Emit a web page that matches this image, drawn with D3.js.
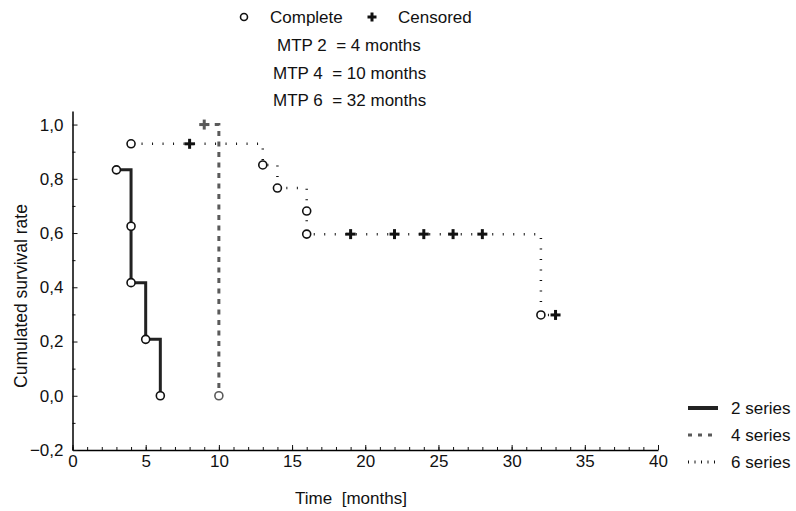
<!DOCTYPE html>
<html lang="en">
    <head>
        <meta charset="utf-8">
        <title>Survival curves</title>
        <script src="https://d3js.org/d3.v7.min.js"></script>
        <style type="text/css">
            body{
                margin: 0;
                background: white;
            }
            text{
                font-family: "Liberation Sans", Arial, sans-serif;
                fill: #111;
                white-space: pre;
            }
            .tick text{
                font-size: 17px;
            }
            .legend{
                font-size: 17px;
            }
        </style>
    </head>
    <body>
        <script type="text/javascript">

            //data
            const seriesNames = ["2 series", "4 series", "6 series"];

            //step curves (time, survival)
            const stepTime2 = [3, 4, 5, 6];
            const stepSurv2 = [0.833, 0.417, 0.208, 0];
            const stepTime4 = [9, 10];
            const stepSurv4 = [1.0, 0];
            const stepTime6 = [4, 13, 14, 16, 32, 33];
            const stepSurv6 = [0.929, 0.851, 0.766, 0.596, 0.298, 0.298];

            //complete events
            const compTime2 = [3, 4, 4, 5, 6];
            const compSurv2 = [0.833, 0.625, 0.417, 0.208, 0];
            const compTime4 = [10];
            const compSurv4 = [0];
            const compTime6 = [4, 13, 14, 16, 16, 32];
            const compSurv6 = [0.929, 0.851, 0.766, 0.681, 0.596, 0.298];

            //censored events
            const censTime4 = [9];
            const censSurv4 = [1.0];
            const censTime6 = [8, 19, 22, 24, 26, 28, 33];
            const censSurv6 = [0.929, 0.596, 0.596, 0.596, 0.596, 0.596, 0.298];

            const xTicks = [0, 5, 10, 15, 20, 25, 30, 35, 40];
            const yTicks = [-0.2, 0, 0.2, 0.4, 0.6, 0.8, 1.0];
            const mtpLines = ["MTP 2  = 4 months", "MTP 4  = 10 months", "MTP 6  = 32 months"];

            const zip = (a, b) => a.map((v, i) => [v, b[i]]);

            const series = [
                {name: seriesNames[0], steps: zip(stepTime2, stepSurv2), comp: zip(compTime2, compSurv2), cens: [],
                 color: "#222", width: 3, dash: null, legDash: null},
                {name: seriesNames[1], steps: zip(stepTime4, stepSurv4), comp: zip(compTime4, compSurv4), cens: zip(censTime4, censSurv4),
                 color: "#5a5a5a", width: 3, dash: "5,5.5", legDash: "4,6"},
                {name: seriesNames[2], steps: zip(stepTime6, stepSurv6), comp: zip(compTime6, compSurv6), cens: zip(censTime6, censSurv6),
                 color: "#111", width: 2.5, dash: "1,9.5", legDash: "1,5.5"}
            ];

            //declare consts
            const w = 796;
            const h = 511;

            const x = d3.scaleLinear().domain([0, 40]).range([72.5, 658]);
            const y = d3.scaleLinear().domain([-0.2, 1.05]).range([450, 111]);

            const svg = d3.select("body")
                    .append("svg")
                    .attr("width", w)
                    .attr("height", h);

            const comma = d => d3.format(".1f")(d).replace(".", ",");

            //minor ticks first
            svg.append("g")
               .attr("transform", "translate(0,450)")
               .call(d3.axisTop(x).ticks(40).tickSize(3).tickFormat(""))
               .call(g => g.select(".domain").remove());
            svg.append("g")
               .attr("transform", "translate(72.5,0)")
               .call(d3.axisRight(y).tickValues(d3.range(-0.1, 1.05, 0.2)).tickSize(3).tickFormat(""))
               .call(g => g.select(".domain").remove());

            //x axis
            const xAxis = svg.append("g")
               .attr("transform", "translate(0,450)")
               .call(d3.axisBottom(x).tickValues(xTicks).tickSizeInner(-5).tickSizeOuter(0).tickPadding(5));
            xAxis.select(".domain").attr("stroke-width", 1.5);

            //y axis
            const yAxis = svg.append("g")
               .attr("transform", "translate(72.5,0)")
               .call(d3.axisLeft(y).tickValues(yTicks).tickFormat(comma).tickSizeInner(-5).tickSizeOuter(0).tickPadding(9));
            yAxis.select(".domain").attr("stroke-width", 1.5);

            svg.selectAll(".tick line").attr("stroke", "#111");
            svg.selectAll(".tick text").attr("fill", "#111");

            //axis titles
            svg.append("text")
               .attr("x", 351)
               .attr("y", 504)
               .attr("text-anchor", "middle")
               .style("font-size", "17px")
               .text("Time  [months]");

            svg.append("text")
               .attr("transform", "translate(27,296) rotate(-90)")
               .attr("text-anchor", "middle")
               .style("font-size", "17.5px")
               .text("Cumulated survival rate");

            //step lines
            const line = d3.line()
                           .x(d => x(d[0]))
                           .y(d => y(d[1]))
                           .curve(d3.curveStepAfter);

            svg.selectAll("path.km")
               .data(series)
               .enter()
               .append("path")
               .attr("class", "km")
               .attr("fill", "none")
               .attr("stroke", d => d.color)
               .attr("stroke-width", d => d.width)
               .attr("stroke-dasharray", d => d.dash)
               .attr("d", d => line(d.steps));

            //plus symbol
            const plus = (g, size, color) => {
                g.append("line").attr("x1", -size).attr("x2", size).attr("y1", 0).attr("y2", 0)
                 .attr("stroke", color).attr("stroke-width", 3);
                g.append("line").attr("y1", -size).attr("y2", size).attr("x1", 0).attr("x2", 0)
                 .attr("stroke", color).attr("stroke-width", 3);
            };

            series.forEach(s => {
                const mark = s.name === "4 series" ? "#5a5a5a" : "#111";
                svg.append("g")
                   .selectAll("circle")
                   .data(s.comp)
                   .enter()
                   .append("circle")
                   .attr("cx", d => x(d[0]))
                   .attr("cy", d => y(d[1]))
                   .attr("r", 4)
                   .attr("fill", "white")
                   .attr("stroke", mark)
                   .attr("stroke-width", 1.6);

                svg.append("g")
                   .selectAll("g")
                   .data(s.cens)
                   .enter()
                   .append("g")
                   .attr("transform", d => "translate(" + x(d[0]) + "," + y(d[1]) + ")")
                   .each(function() { plus(d3.select(this), 5, mark); });
            });

            //top legend
            svg.append("circle")
               .attr("cx", 244).attr("cy", 17).attr("r", 3.5)
               .attr("fill", "white").attr("stroke", "#111").attr("stroke-width", 1.6);
            svg.append("text").attr("class", "legend").attr("x", 270).attr("y", 23).text("Complete");
            plus(svg.append("g").attr("transform", "translate(372,17)"), 4.5, "#111");
            svg.append("text").attr("class", "legend").attr("x", 398).attr("y", 23).text("Censored");

            svg.selectAll("text.mtp")
               .data(mtpLines)
               .enter()
               .append("text")
               .attr("class", "legend mtp")
               .attr("x", (d, i) => i === 0 ? 277 : 273)
               .attr("y", (d, i) => 51 + i * 27.5)
               .text(d => d);

            //series legend
            const leg = svg.selectAll("g.leg")
               .data(series)
               .enter()
               .append("g")
               .attr("class", "leg")
               .attr("transform", (d, i) => "translate(688," + (408 + i * 27) + ")");

            leg.append("line")
               .attr("x1", 0).attr("x2", 30)
               .attr("stroke", d => d.color)
               .attr("stroke-width", d => d.name === "2 series" ? 4 : 3)
               .attr("stroke-dasharray", d => d.legDash);

            leg.append("text")
               .attr("class", "legend")
               .attr("x", 43)
               .attr("y", 6)
               .text(d => d.name);

        </script>
    </body>
</html>
